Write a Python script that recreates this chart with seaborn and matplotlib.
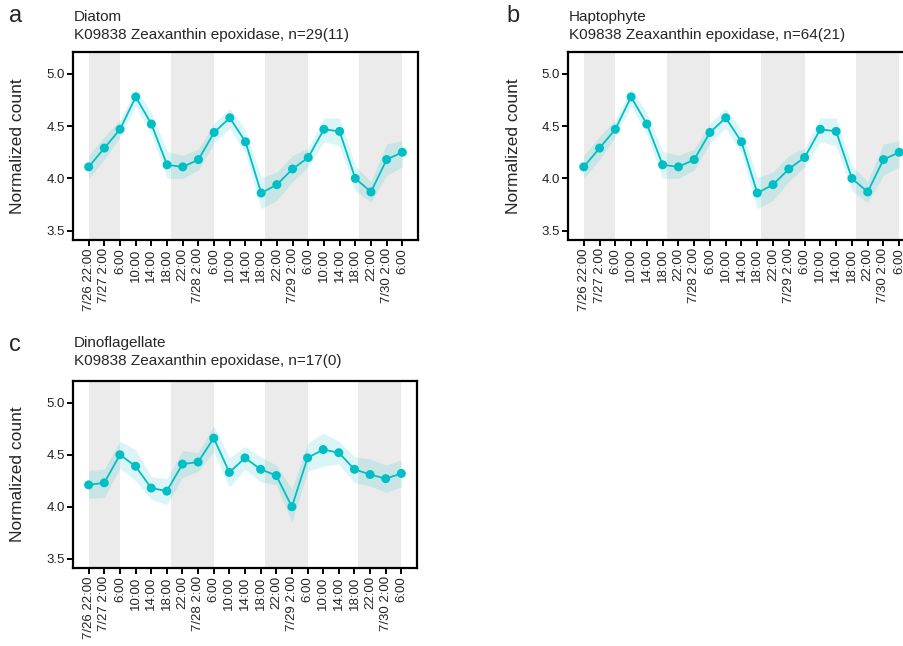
import numpy as np
import pandas as pd
import matplotlib
matplotlib.use("Agg")
import matplotlib.pyplot as plt
import seaborn as sns

# Sampling time points (every 4 h)
time_labels = ["7/26 22:00", "7/27 2:00", "6:00", "10:00", "14:00", "18:00",
               "22:00", "7/28 2:00", "6:00", "10:00", "14:00", "18:00",
               "22:00", "7/29 2:00", "6:00", "10:00", "14:00", "18:00",
               "22:00", "7/30 2:00", "6:00"]

# Night periods (in sample-index units)
night_start = [0, 5.25, 11.25, 17.25]
night_end = [2, 8, 14, 20]

# Diatom, K09838
diatom_mean = [4.11, 4.29, 4.47, 4.78, 4.52, 4.13, 4.11, 4.18, 4.44, 4.58, 4.35,
               3.86, 3.94, 4.09, 4.20, 4.47, 4.45, 4.00, 3.87, 4.18, 4.25]
diatom_low = [4.00, 4.18, 4.40, 4.69, 4.42, 4.00, 4.00, 4.08, 4.34, 4.48, 4.24,
              3.71, 3.79, 3.97, 4.11, 4.35, 4.31, 3.88, 3.77, 4.03, 4.11]
diatom_high = [4.22, 4.40, 4.56, 4.86, 4.63, 4.26, 4.22, 4.28, 4.53, 4.67, 4.46,
               4.01, 4.06, 4.22, 4.29, 4.58, 4.58, 4.12, 3.97, 4.33, 4.36]

# Haptophyte, K09838
hapto_mean = [4.11, 4.29, 4.47, 4.78, 4.52, 4.13, 4.11, 4.18, 4.44, 4.58, 4.35,
              3.86, 3.94, 4.09, 4.20, 4.47, 4.45, 4.00, 3.87, 4.18, 4.25]
hapto_low = [4.00, 4.18, 4.40, 4.69, 4.42, 4.00, 4.00, 4.08, 4.34, 4.48, 4.24,
             3.71, 3.79, 3.97, 4.11, 4.35, 4.31, 3.88, 3.77, 4.03, 4.11]
hapto_high = [4.22, 4.40, 4.56, 4.86, 4.63, 4.26, 4.22, 4.28, 4.53, 4.67, 4.46,
              4.01, 4.06, 4.22, 4.29, 4.58, 4.58, 4.12, 3.97, 4.33, 4.36]

# Dinoflagellate, K09838
dino_mean = [4.21, 4.23, 4.50, 4.39, 4.18, 4.15, 4.41, 4.43, 4.66, 4.33, 4.47,
             4.36, 4.30, 4.00, 4.47, 4.55, 4.52, 4.36, 4.31, 4.27, 4.32]
dino_low = [4.08, 4.09, 4.37, 4.25, 4.07, 4.02, 4.28, 4.34, 4.53, 4.19, 4.36,
            4.24, 4.21, 3.85, 4.34, 4.39, 4.41, 4.23, 4.20, 4.14, 4.19]
dino_high = [4.35, 4.36, 4.63, 4.55, 4.29, 4.27, 4.54, 4.52, 4.78, 4.47, 4.58,
             4.48, 4.40, 4.17, 4.61, 4.71, 4.63, 4.48, 4.46, 4.40, 4.45]

LINE = "#00BFC4"
NIGHT = "#EBEBEB"

sns.set_style("white")
plt.rcParams["font.family"] = ["Liberation Sans", "DejaVu Sans"]

W, H = 904, 646
fig = plt.figure(figsize=(W / 100, H / 100), dpi=100)


def add_axes_px(left, top, right, bottom):
    return fig.add_axes([left / W, 1 - bottom / H, (right - left) / W, (bottom - top) / H])


def draw_panel(ax, mean, low, high, tag, group, n_text, tag_xy, title_xy, ylab_x):
    df = pd.DataFrame({"idx": np.arange(len(mean)), "value": mean,
                       "low": low, "high": high})
    for s, e in zip(night_start, night_end):
        ax.axvspan(s, e, color=NIGHT, lw=0, zorder=0)
    ax.fill_between(df["idx"], df["low"], df["high"], color=LINE, alpha=0.14,
                    lw=0, zorder=1)
    sns.lineplot(data=df, x="idx", y="value", color=LINE, lw=1.3, ax=ax, zorder=2)
    sns.scatterplot(data=df, x="idx", y="value", color=LINE, s=42, edgecolor="none",
                    ax=ax, zorder=3)
    ax.set_xlim(-1, len(mean))
    ax.set_ylim(3.41, 5.21)
    ax.set_yticks([3.5, 4.0, 4.5, 5.0])
    ax.set_yticklabels(["3.5", "4.0", "4.5", "5.0"], fontsize=9.5, color="#222222")
    ax.set_xticks(df["idx"])
    ax.set_xticklabels(time_labels, rotation=90, fontsize=9.5, color="#222222",
                       va="top", ha="center")
    ax.set_xlabel("")
    ax.set_ylabel("")
    for sp in ax.spines.values():
        sp.set_visible(True)
        sp.set_color("black")
        sp.set_linewidth(1.6)
    ax.tick_params(axis="both", direction="out", length=4, width=1.4, color="black",
                   pad=2, bottom=True, left=True)
    fig.text(tag_xy[0] / W, 1 - tag_xy[1] / H, tag, fontsize=17, va="center",
             ha="left")
    fig.text(title_xy[0] / W, 1 - title_xy[1] / H, group, fontsize=11, va="center",
             ha="left")
    fig.text(title_xy[0] / W, 1 - (title_xy[1] + 18) / H,
             "K09838 Zeaxanthin epoxidase, " + n_text, fontsize=11, va="center",
             ha="left")
    bbox = ax.get_position()
    fig.text(ylab_x / W, (bbox.y0 + bbox.y1) / 2, "Normalized count", fontsize=12.5,
             rotation=90, va="center", ha="center")


ax_a = add_axes_px(73, 52, 418, 240)
draw_panel(ax_a, diatom_mean, diatom_low, diatom_high, "a", "Diatom", "n=29(11)",
           (9, 16), (74, 17), 18)

ax_b = add_axes_px(568, 52, 915, 240)
draw_panel(ax_b, hapto_mean, hapto_low, hapto_high, "b", "Haptophyte", "n=64(21)",
           (506, 16), (569, 17), 514)

ax_c = add_axes_px(73, 381, 417, 568)
draw_panel(ax_c, dino_mean, dino_low, dino_high, "c", "Dinoflagellate", "n=17(0)",
           (9, 345), (74, 343), 18)

fig.savefig("out.png", dpi=100)
